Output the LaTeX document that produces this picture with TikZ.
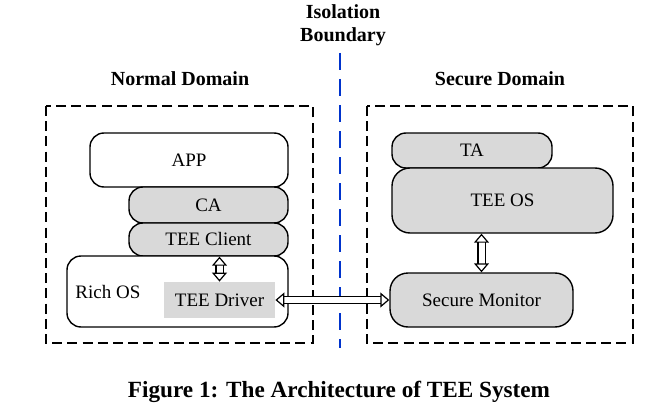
\documentclass[tikz,border=0pt]{standalone}
\usepackage{fontspec}
\setmainfont{Liberation Serif}
\usetikzlibrary{arrows.meta}

\definecolor{layergray}{HTML}{D9D9D9}
\definecolor{bndblue}{HTML}{0033CC}

\tikzset{
  layer/.style={draw, line width=0.7pt, rounded corners=7pt, fill=layergray,
                inner sep=0pt, font=\fontsize{9.5}{11}\selectfont},
  domainbox/.style={draw, line width=0.6pt, dash pattern=on 5pt off 2.6pt},
  domaintitle/.style={font=\bfseries\fontsize{10}{11.5}\selectfont, align=center},
  dblarrow/.style={double, double distance=3pt, line width=0.6pt,
                   {Triangle[open, length=4.5pt, width=7.5pt]}-{Triangle[open, length=4.5pt, width=7.5pt]}}
}

\begin{document}
\begin{tikzpicture}[x=0.5pt, y=-0.5pt]
  \useasboundingbox (0,0) rectangle (658,417);

  \node [domaintitle] (iso) at (343,25) {Isolation\\Boundary};
  \node [domaintitle] (normaltitle) at (180,79) {Normal Domain};
  \node [domaintitle] (securetitle) at (500,79) {Secure Domain};

  \coordinate (bndtop) at (340,53);
  \coordinate (bndbot) at (340,348);
  \draw [bndblue, line width=1.2pt, dash pattern=on 8.5pt off 4.5pt] (bndtop) -- (bndbot);

  \draw [domainbox] (46,106) rectangle (313,343);
  \draw [domainbox] (367,106) rectangle (633,343);

  % normal side
  \node [layer, fill=white, minimum width=99pt, minimum height=27pt] (app) at (189,160) {APP};
  \node [layer, minimum width=79.5pt, minimum height=18pt] (ca) at (208.5,205) {CA};
  \node [layer, minimum width=79.5pt, minimum height=16.5pt] (client) at (208.5,239.5) {TEE Client};
  \node [layer, fill=white, minimum width=110.5pt, minimum height=35.5pt] (richos) at (177.5,291.5) {};
  \node [font=\fontsize{9.5}{11}\selectfont, anchor=west, inner sep=0pt] (richlbl) at (75,292) {Rich OS};
  \node [fill=layergray, font=\fontsize{9.5}{11}\selectfont, minimum width=55.5pt, minimum height=18pt, inner sep=0pt] (driver) at (219.5,300) {TEE Driver};

  % secure side
  \node [layer, minimum width=80pt, minimum height=17.5pt] (ta) at (472,150.5) {TA};
  \node [layer, rounded corners=9pt, minimum width=110.5pt, minimum height=32.5pt] (teeos) at (502.5,200.5) {TEE OS};
  \node [layer, rounded corners=9pt, minimum width=91.5pt, minimum height=27pt] (monitor) at (481.5,300) {Secure Monitor};

  \draw [dblarrow] (driver.north) -- (driver.north |- client.south);
  \draw [dblarrow] (monitor.north) -- (monitor.north |- teeos.south);
  \draw [dblarrow] (driver.east) -- (monitor.west);

  \node [font=\bfseries\fontsize{11.6}{13}\selectfont] (caption) at (339,392) {Figure 1: The Architecture of TEE System};
\end{tikzpicture}
\end{document}
